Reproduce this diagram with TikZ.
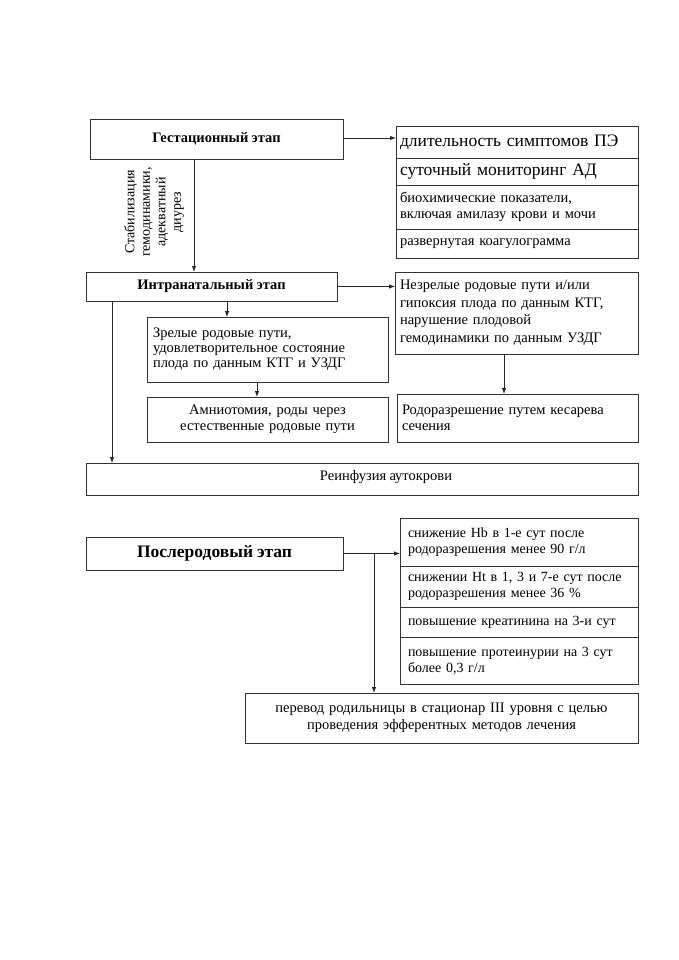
\documentclass[tikz,border=0pt]{standalone}
\usepackage{fontspec}
\setmainfont{Liberation Serif}[WordSpace=0.9]
\usetikzlibrary{arrows.meta,calc}
\begin{document}
\begin{tikzpicture}[x=1pt,y=-1pt,
  box/.style={draw=black!80, line width=0.9pt, rectangle, inner sep=0pt, outer sep=0pt, font=\fontsize{14.5}{16.5}\selectfont},
  lbox/.style={box, align=left},
  cbox/.style={box, align=center},
  conn/.style={draw=black!85, line width=0.9pt},
  arr/.style={conn, -{Latex[length=6pt,width=4.5pt]}},
  big/.style={font=\fontsize{17.5}{19}\selectfont}
]
\useasboundingbox (0,0) rectangle (678,960);
\fill[white] (0,0) rectangle (678,960);

% Gestational stage
\node[cbox, minimum width=253pt, minimum height=40pt, font=\bfseries\fontsize{14.5}{16}\selectfont] (gest) at (216.5,139) {\raisebox{3pt}{Гестационный этап}};

\node[lbox, big, minimum width=242pt, minimum height=32pt, text width=234pt] (l1) at (517,142) {длительность симптомов ПЭ};
\node[lbox, big, minimum width=242pt, minimum height=27pt, text width=234pt] (l2) at (517,171.5) {суточный мониторинг АД};
\node[lbox, minimum width=242pt, minimum height=44pt, text width=234pt] (l3) at (517,207) {биохимические показатели,\\включая амилазу крови и мочи};
\node[lbox, minimum width=242pt, minimum height=29pt, text width=234pt] (l4) at (517,243.5) {развернутая коагулограмма};

\node[align=center, rotate=90, inner sep=0pt, font=\fontsize{14}{15.5}\selectfont] (stab) at (154,212) {Стабилизация\\гемодинамики,\\адекватный\\диурез};

% Intranatal stage
\node[cbox, minimum width=251pt, minimum height=29pt, font=\bfseries\fontsize{14.5}{16}\selectfont] (intr) at (211.5,286.5) {Интранатальный этап};

\node[lbox, minimum width=243pt, minimum height=82pt, text width=233pt, font=\fontsize{14.5}{17.5}\selectfont] (nez) at (516.5,313) {Незрелые родовые пути и/или\\гипоксия плода по данным КТГ,\\нарушение плодовой\\гемодинамики по данным УЗДГ};

\node[lbox, minimum width=241pt, minimum height=65pt, text width=229pt, font=\fontsize{14.5}{15}\selectfont] (zr) at (267.5,349.5) {Зрелые родовые пути,\\удовлетворительное состояние\\плода по данным КТГ и УЗДГ};

\node[cbox, minimum width=241pt, minimum height=45pt, text width=230pt] (amn) at (267.5,419.5) {Амниотомия, роды через\\естественные родовые пути};

\node[lbox, minimum width=241pt, minimum height=48pt, text width=231pt] (rod) at (517.5,418) {Родоразрешение путем кесарева\\сечения};

\node[box, minimum width=552pt, minimum height=32pt] (reinf) at (362,479) {};
\node[inner sep=0pt, font=\fontsize{14.5}{16}\selectfont] (reinft) at (386,477) {Реинфузия аутокрови};

% Postpartum stage
\node[cbox, minimum width=257pt, minimum height=33pt, font=\bfseries\fontsize{17.5}{19}\selectfont] (post) at (214.5,553.5) {Послеродовый этап};

\node[lbox, minimum width=238pt, minimum height=48pt, text width=222pt, font=\fontsize{14}{16}\selectfont] (p1) at (519,542) {снижение Hb в 1-е сут после\\родоразрешения менее 90 г/л};
\node[lbox, minimum width=238pt, minimum height=41pt, text width=222pt, font=\fontsize{14}{16}\selectfont] (p2) at (519,586.5) {снижении Ht в 1, 3 и 7-е сут после\\родоразрешения менее 36 \%};
\node[lbox, minimum width=238pt, minimum height=30pt, text width=222pt, font=\fontsize{14}{16}\selectfont] (p3) at (519,622) {повышение креатинина на 3-и сут};
\node[lbox, minimum width=238pt, minimum height=47pt, text width=222pt, font=\fontsize{14}{16}\selectfont] (p4) at (519,660.5) {повышение протеинурии на 3 сут\\более 0,3 г/л};

\node[cbox, minimum width=393pt, minimum height=50pt, text width=385pt] (perev) at (441.5,718) {перевод родильницы в стационар III уровня с целью\\проведения эфферентных методов лечения};

% connectors
\coordinate (xa) at (194,0);
\coordinate (xb) at (227,0);
\coordinate (xc) at (257,0);
\coordinate (xd) at (504,0);
\coordinate (xe) at (112,0);
\coordinate (xf) at (374,0);

\draw[arr] (gest.south -| xa) -- (intr.north -| xa);
\draw[arr] ($(gest.east)+(0,-1)$) -- ($(gest.east -| l1.west)+(0,-1)$);
\draw[arr] (intr.east) -- (intr.east -| nez.west);
\draw[arr] (intr.south -| xb) -- (zr.north -| xb);
\draw[arr] (zr.south -| xc) -- (amn.north -| xc);
\draw[arr] (nez.south -| xd) -- (rod.north -| xd);
\draw[arr] (intr.south -| xe) -- (reinf.north -| xe);
\draw[arr] (post.east) -- (post.east -| p1.west);
\coordinate (br) at (post.east -| xf);
\draw[arr] (br) -- (perev.north -| xf);
\end{tikzpicture}
\end{document}
